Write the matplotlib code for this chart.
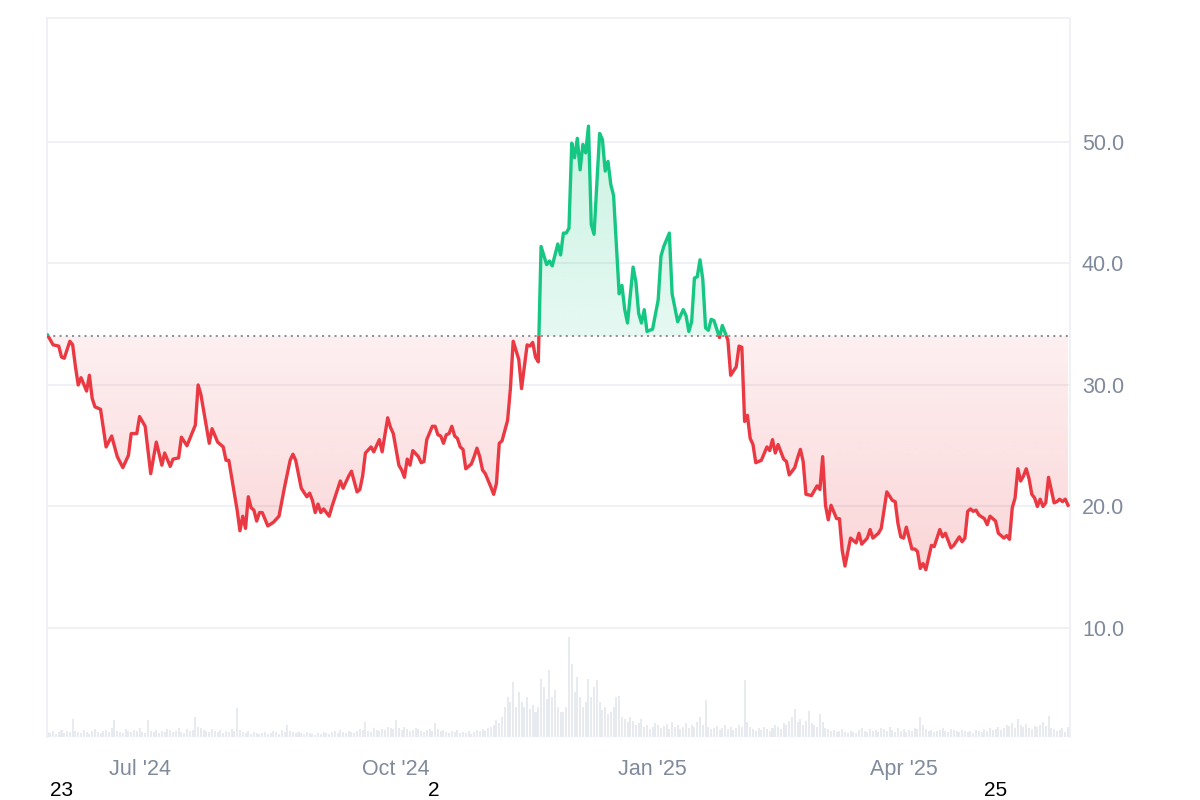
import numpy as np
import matplotlib
matplotlib.use('Agg')
import matplotlib.pyplot as plt
import matplotlib.dates as mdates
from matplotlib.patches import Rectangle

# ---------------- data ----------------
start_date = '2024-05-29'
price_days = [0, 1, 2, 4, 5, 6, 8, 9, 10, 11, 12, 14, 15, 16, 17, 19, 21, 23, 25, 27, 29, 30, 32, 33, 35, 37, 39,
              41, 42, 44, 45, 47, 48, 50, 53, 54, 55, 58, 59, 61, 63, 64, 65, 67, 68, 69, 70, 71, 72, 73, 74, 75,
              76, 77, 79, 81, 83, 85, 87, 88, 89, 91, 93, 94, 95, 96, 97, 98, 99, 101, 102, 104, 105, 106, 108,
              109, 111, 112, 113, 114, 116, 117, 119, 120, 122, 123, 124, 126, 127, 128, 129, 130, 131, 133, 134,
              135, 136, 138, 139, 140, 141, 142, 143, 144, 145, 146, 147, 148, 149, 150, 152, 153, 154, 155, 156,
              157, 159, 160, 161, 162, 163, 165, 166, 167, 169, 170, 171, 172, 173, 174, 175, 176, 177, 179, 180,
              181, 183, 184, 185, 186, 187, 188, 189, 190, 191, 192, 193, 194, 195, 196, 198, 199, 200, 201, 202,
              203, 205, 206, 207, 208, 210, 211, 212, 213, 214, 215, 217, 219, 220, 221, 223, 224, 226, 228, 229,
              230, 231, 232, 233, 234, 235, 236, 237, 238, 239, 241, 242, 244, 245, 247, 248, 249, 250, 251, 252,
              253, 254, 256, 258, 259, 260, 261, 262, 264, 265, 266, 268, 269, 270, 271, 272, 274, 276, 277, 278,
              279, 280, 281, 283, 284, 285, 286, 288, 290, 291, 292, 294, 295, 296, 298, 299, 301, 303, 304, 305,
              306, 307, 308, 310, 311, 312, 313, 314, 315, 317, 318, 320, 321, 322, 324, 325, 327, 328, 329, 330,
              331, 332, 333, 334, 336, 337, 338, 340, 341, 343, 344, 345, 346, 347, 348, 349, 350, 351, 352, 353,
              354, 355, 356, 357, 358, 359, 361, 362, 363, 364, 365, 366]
price_values = [34.1, 33.7, 33.3, 33.2, 32.3, 32.2, 33.6, 33.3, 31.5, 30.0, 30.6, 29.5, 30.8, 28.9, 28.2, 28.0,
                24.9, 25.8, 24.1, 23.2, 24.2, 26.0, 26.0, 27.4, 26.6, 22.7, 25.3, 23.4, 24.4, 23.3, 23.9, 24.0,
                25.7, 25.0, 26.7, 30.0, 29.2, 25.2, 26.4, 25.3, 24.9, 23.8, 23.8, 21.1, 19.7, 18.0, 19.2, 18.2,
                20.8, 19.9, 19.7, 18.8, 19.5, 19.5, 18.4, 18.7, 19.2, 21.6, 23.8, 24.3, 23.8, 21.5, 20.8, 21.1,
                20.5, 19.5, 20.2, 19.5, 19.8, 19.2, 20.0, 21.4, 22.1, 21.5, 22.5, 22.9, 21.2, 21.4, 22.5, 24.4,
                24.9, 24.5, 25.5, 24.5, 27.3, 26.5, 26.0, 23.4, 23.0, 22.4, 23.9, 23.4, 24.6, 24.1, 23.6, 23.7,
                25.5, 26.6, 26.6, 25.9, 25.8, 25.2, 25.9, 26.0, 26.6, 25.8, 25.6, 24.9, 24.7, 23.1, 23.5, 24.1,
                24.8, 24.1, 23.0, 22.7, 21.6, 21.0, 21.9, 25.2, 25.4, 27.1, 29.7, 33.6, 32.1, 29.7, 31.5, 33.3,
                33.2, 33.5, 32.3, 31.9, 41.4, 39.9, 40.2, 39.8, 41.6, 40.7, 42.5, 42.5, 42.9, 49.9, 48.7, 50.3,
                47.7, 49.8, 49.1, 51.3, 43.2, 42.4, 50.7, 50.2, 47.6, 48.4, 46.5, 45.6, 37.5, 38.2, 36.2, 35.1,
                39.7, 38.5, 35.9, 35.1, 36.2, 34.4, 34.6, 37.0, 40.6, 41.4, 42.5, 37.5, 35.2, 36.2, 35.7, 34.4,
                35.2, 38.8, 38.9, 40.3, 38.7, 34.7, 34.5, 35.4, 35.3, 33.9, 34.9, 33.7, 30.8, 31.5, 33.2, 33.1,
                27.0, 27.5, 25.6, 25.1, 23.6, 23.8, 24.9, 24.6, 25.5, 24.4, 25.1, 23.9, 23.7, 22.6, 23.2, 24.0,
                24.7, 23.7, 21.0, 20.9, 21.7, 21.4, 24.1, 20.1, 18.9, 20.1, 19.0, 19.0, 16.4, 15.1, 17.4, 17.0,
                17.8, 16.9, 17.4, 18.1, 17.4, 17.8, 18.2, 21.2, 20.5, 20.4, 18.6, 17.5, 17.4, 18.3, 16.5, 16.5,
                16.3, 14.9, 15.3, 14.8, 16.8, 16.7, 18.1, 17.5, 17.8, 16.6, 16.8, 17.5, 17.1, 17.4, 19.6, 19.8,
                19.6, 19.7, 19.3, 19.0, 18.5, 19.2, 18.8, 17.8, 17.4, 17.6, 17.3, 19.9, 20.7, 23.1, 22.1, 22.5,
                23.1, 22.3, 21.0, 20.7, 20.0, 20.6, 20.0, 20.3, 22.4, 20.3, 20.4, 20.6, 20.4, 20.6, 20.1]
volume = [5, 4, 6, 3, 5, 7, 4, 6, 5, 18,
          6, 5, 4, 7, 5, 3, 6, 8, 5, 4,
          6, 7, 5, 9, 17, 6, 5, 4, 8, 6,
          5, 7, 6, 9, 5, 4, 17, 6, 5, 7,
          4, 6, 5, 8, 7, 5, 6, 9, 5, 4,
          8, 6, 7, 20, 10, 9, 7, 6, 5, 8,
          6, 5, 7, 4, 6, 5, 8, 6, 29, 7,
          5, 4, 6, 3, 5, 4, 3, 4, 5, 3,
          4, 6, 5, 3, 7, 5, 12, 6, 5, 4,
          5, 4, 3, 5, 4, 3, 2, 4, 3, 5,
          4, 3, 5, 6, 4, 7, 5, 4, 6, 5,
          4, 6, 8, 7, 15, 6, 5, 9, 7, 6,
          8, 7, 10, 9, 8, 17, 9, 7, 10, 8,
          6, 7, 9, 8, 6, 5, 7, 8, 6, 14,
          8, 6, 7, 5, 4, 6, 5, 7, 4, 5,
          4, 6, 3, 5, 7, 6, 8, 6, 9, 10,
          12, 17, 14, 20, 30, 40, 35, 55, 30, 45,
          35, 30, 40, 28, 32, 25, 30, 58, 50, 38,
          67, 40, 47, 30, 25, 25, 30, 100, 73, 45,
          60, 40, 30, 35, 58, 40, 50, 57, 35, 27,
          30, 23, 25, 30, 40, 41, 20, 18, 15, 20,
          16, 12, 14, 18, 10, 12, 8, 10, 14, 12,
          9, 11, 13, 8, 15, 10, 12, 8, 10, 14,
          9, 12, 10, 15, 20, 12, 37, 10, 8, 9,
          11, 7, 9, 12, 8, 10, 7, 9, 12, 10,
          57, 15, 10, 8, 6, 9, 7, 10, 8, 6,
          9, 12, 10, 8, 14, 12, 16, 20, 28, 15,
          18, 12, 16, 26, 14, 12, 10, 23, 15, 9,
          8, 6, 7, 5, 6, 8, 5, 4, 6, 5,
          4, 7, 9, 6, 5, 8, 6, 7, 5, 9,
          8, 6, 10, 7, 5, 9, 6, 8, 5, 7,
          6, 9, 8, 20, 12, 8, 6, 7, 5, 6,
          7, 9, 6, 5, 8, 7, 6, 5, 7, 6,
          5, 6, 4, 7, 6, 5, 8, 6, 9, 7,
          8, 10, 7, 9, 12, 11, 14, 9, 18, 12,
          10, 13, 9, 8, 11, 10, 12, 15, 11, 21,
          9, 8, 6, 7, 9, 5, 10]
baseline_value = 34.0
y_ticks = [10, 20, 30, 40, 50]
x_tick_dates = ['2024-07-01', '2024-10-01', '2025-01-01', '2025-04-01']
x_tick_labels = ["Jul '24", "Oct '24", "Jan '25", "Apr '25"]
extra_labels = ['23', '2', '25']

# ---------------- style ----------------
plt.rcParams['font.family'] = ['Liberation Sans', 'DejaVu Sans']
GREEN = '#16c784'
RED = '#ea3943'
GRID = '#eef0f3'
LABEL = '#808a9d'

fig = plt.figure(figsize=(12, 8), dpi=100, facecolor='white')
ax = fig.add_axes([47 / 1200, 63 / 800, 1023 / 1200, 719 / 800])
ax2 = ax.twinx()
ax.set_zorder(2)
ax2.set_zorder(1)
ax.patch.set_visible(False)

base = np.datetime64(start_date)
dates = base + np.array(price_days).astype('timedelta64[D]')
xnum = mdates.date2num(dates)
vals = np.array(price_values, dtype=float)
vol_x = mdates.date2num(base + np.arange(len(volume)).astype('timedelta64[D]'))

x0 = mdates.date2num(base) - 0.2
x1 = mdates.date2num(base) + 366.7
ylo, yhi = 1.03, 60.2

# volume bars
ax2.bar(vol_x, volume, width=0.72, color='#e7ebf0', linewidth=0)
ax2.set_ylim(0, 719)
ax2.set_yticks([])
for s in ax2.spines.values():
    s.set_visible(False)

ax.set_xlim(x0, x1)
ax.set_ylim(ylo, yhi)

# grid
for t in y_ticks:
    ax.axhline(t, color=GRID, lw=1.3, zorder=0.5)

# baseline fills with gradient
poly = ax.fill_between(xnum, vals, baseline_value, facecolor='none', edgecolor='none')
clip_path = poly.get_paths()[0]

n = 256
a_top = np.linspace(0.28, 0.11, n)  # top of pane -> baseline
g_img = np.zeros((n, 1, 4))
g_img[:, 0, 0] = 22 / 255
g_img[:, 0, 1] = 199 / 255
g_img[:, 0, 2] = 132 / 255
g_img[:, 0, 3] = a_top
im_g = ax.imshow(g_img, extent=[x0, x1, baseline_value, yhi], aspect='auto',
                 origin='upper', interpolation='bilinear', zorder=1)
im_g.set_clip_path(clip_path, transform=ax.transData)

a_bot = np.linspace(0.08, 0.30, n)  # baseline -> bottom of pane
r_img = np.zeros((n, 1, 4))
r_img[:, 0, 0] = 234 / 255
r_img[:, 0, 1] = 57 / 255
r_img[:, 0, 2] = 67 / 255
r_img[:, 0, 3] = a_bot
im_r = ax.imshow(r_img, extent=[x0, x1, ylo, baseline_value], aspect='auto',
                 origin='upper', interpolation='bilinear', zorder=1)
im_r.set_clip_path(clip_path, transform=ax.transData)

# dotted baseline
ax.axhline(baseline_value, color='#8e949c', lw=1.5, linestyle=(0, (1, 2)), zorder=2)

# two-colour line
lg, = ax.plot(xnum, vals, color=GREEN, lw=2.4, solid_joinstyle='round', zorder=3)
lg.set_clip_path(Rectangle((x0, baseline_value), x1 - x0, yhi - baseline_value, transform=ax.transData))
lr, = ax.plot(xnum, vals, color=RED, lw=2.4, solid_joinstyle='round', zorder=3)
lr.set_clip_path(Rectangle((x0, ylo), x1 - x0, baseline_value - ylo, transform=ax.transData))

# axes styling
ax.yaxis.tick_right()
ax.set_yticks(y_ticks)
ax.set_yticklabels([f'{t:.1f}' for t in y_ticks])
ax.set_xticks(mdates.date2num(np.array(x_tick_dates, dtype='datetime64[D]')))
ax.set_xticklabels(x_tick_labels)
ax.tick_params(axis='y', length=0, pad=8.6, labelsize=15.5, labelcolor=LABEL)
ax.tick_params(axis='x', length=0, pad=15.5, labelsize=15.5, labelcolor=LABEL)
ax.tick_params(axis='y', which='both', left=False, right=False)
for side in ['left', 'right', 'top']:
    ax.spines[side].set_color(GRID)
    ax.spines[side].set_linewidth(1.3)
ax.spines['bottom'].set_visible(False)

# stray black labels along the bottom
for s, px in zip(extra_labels, [62, 434, 996]):
    fig.text(px / 1200, 1 - 790 / 800, s, ha='center', va='center', fontsize=15, color='black')

fig.savefig('out.png', dpi=100, facecolor='white')
